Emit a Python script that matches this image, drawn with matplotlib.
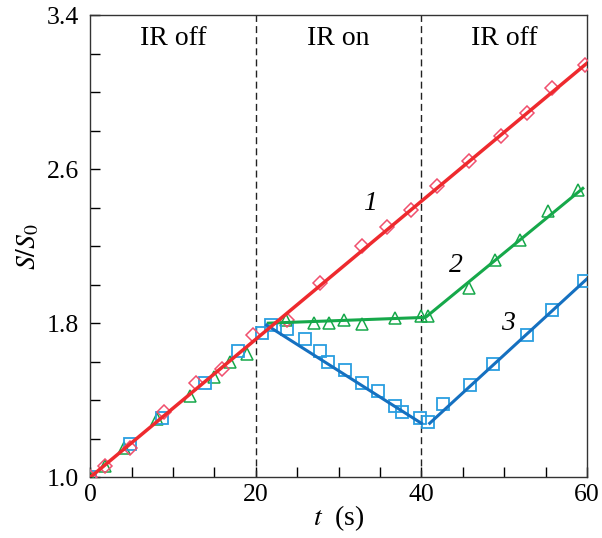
import matplotlib.pyplot as plt
from matplotlib.ticker import MultipleLocator

plt.rcParams['font.family'] = ['Liberation Serif', 'DejaVu Serif']
plt.rcParams['mathtext.fontset'] = 'stix'

# Measured points, curve 1 (diamonds)
t1 = [0, 1.8, 4.8, 8.9, 12.8, 15.9, 19.6, 23.8, 27.8, 32.8, 35.8, 38.8,
      41.9, 45.7, 49.6, 52.7, 55.8, 59.8]
s1 = [1.0, 1.06, 1.15, 1.34, 1.49, 1.56, 1.74, 1.815, 2.01, 2.20, 2.30, 2.39,
      2.51, 2.64, 2.77, 2.89, 3.02, 3.14]

# curve 2 (triangles)
t2 = [0, 1.8, 4.1, 8.0, 12.0, 15.0, 16.9, 18.9, 23.7, 27.0, 28.8, 30.7,
      32.8, 36.8, 39.9, 40.8, 45.7, 48.9, 51.9, 55.3, 58.9]
s2 = [1.0, 1.06, 1.15, 1.30, 1.42, 1.52, 1.60, 1.64, 1.815, 1.80, 1.80, 1.815,
      1.795, 1.825, 1.836, 1.836, 1.98, 2.13, 2.23, 2.38, 2.49]

# curve 3 (squares)
t3 = [0, 4.8, 8.7, 13.8, 17.8, 20.7, 21.8, 23.8, 25.9, 27.8, 28.7, 30.8,
      32.8, 34.8, 36.8, 37.7, 39.8, 40.8, 42.6, 45.9, 48.7, 52.7, 55.8, 59.6]
s3 = [1.0, 1.17, 1.31, 1.49, 1.655, 1.75, 1.79, 1.77, 1.72, 1.655, 1.60, 1.555,
      1.49, 1.45, 1.37, 1.34, 1.31, 1.285, 1.38, 1.48, 1.59, 1.74, 1.87, 2.02]

# fitted lines
fit1_t = [0, 60]
fit1_s = [1.0, 3.15]
fit2_t = [21.5, 40.5, 59.5]
fit2_s = [1.80, 1.83, 2.50]
fit3a_t = [21.3, 40.0]
fit3a_s = [1.79, 1.28]
fit3b_t = [41.0, 60.0]
fit3b_s = [1.28, 2.03]

red, red_m = '#ee2a2e', '#f0506e'
green = '#16a84a'
blue, blue_m = '#1570c0', '#2a9ee0'

fig, ax = plt.subplots(figsize=(6.02, 5.38), dpi=100)
fig.subplots_adjust(left=0.15, right=0.975, top=0.972, bottom=0.113)

# markers
ax.plot(t2, s2, ls='none', marker='^', ms=8.5, mfc='none', mec=green, mew=1.1, zorder=3)
ax.plot(t3, s3, ls='none', marker='s', ms=8.5, mfc='none', mec=blue_m, mew=1.3, zorder=3)
ax.plot(t1, s1, ls='none', marker='D', ms=7.5, mfc='none', mec=red_m, mew=1.1, zorder=3)

# fitted lines
ax.plot(fit2_t, fit2_s, color=green, lw=2.2, zorder=4)
ax.plot(fit3a_t, fit3a_s, color=blue, lw=2.2, zorder=4)
ax.plot(fit3b_t, fit3b_s, color=blue, lw=2.2, zorder=4)
ax.plot(fit1_t, fit1_s, color=red, lw=2.5, zorder=5)

for xv in (20, 40):
    ax.axvline(xv, color='#222222', lw=1.0, ls=(0, (5, 3)), zorder=2)

ax.text(10, 3.28, 'IR off', ha='center', va='center', fontsize=20)
ax.text(30, 3.28, 'IR on', ha='center', va='center', fontsize=20)
ax.text(50, 3.28, 'IR off', ha='center', va='center', fontsize=20)

ax.text(33.8, 2.42, '1', fontsize=20, style='italic', ha='center', va='center')
ax.text(44.2, 2.10, '2', fontsize=20, style='italic', ha='center', va='center')
ax.text(50.4, 1.80, '3', fontsize=20, style='italic', ha='center', va='center')

ax.set_xlim(0, 60)
ax.set_ylim(1.0, 3.4)
ax.set_xticks([0, 20, 40, 60])
ax.set_yticks([1.0, 1.8, 2.6, 3.4])
ax.xaxis.set_minor_locator(MultipleLocator(5))
ax.yaxis.set_minor_locator(MultipleLocator(0.2))
ax.tick_params(which='both', direction='in', labelsize=18.5, top=False, right=False, width=1.0)
ax.tick_params(which='major', length=7)
ax.tick_params(which='minor', length=7)
ax.tick_params(axis='x', pad=5)
ax.tick_params(axis='y', pad=8)

ax.set_xlabel(r'$t$  (s)', fontsize=20, labelpad=-2)
ax.set_ylabel(r'$S/S_0$', fontsize=20, labelpad=4)

for sp in ax.spines.values():
    sp.set_color('#333333')
    sp.set_linewidth(1.0)

fig.savefig('out.png', dpi=100)
